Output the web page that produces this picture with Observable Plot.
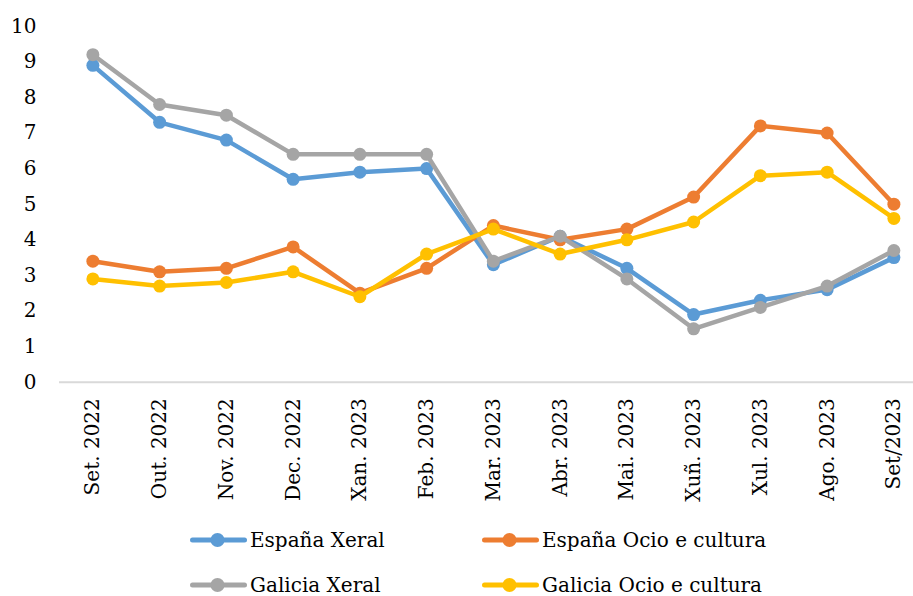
<!DOCTYPE html>
<html>
<head>
<meta charset="utf-8">
<script src="https://cdn.jsdelivr.net/npm/d3@7"></script>
<script src="https://cdn.jsdelivr.net/npm/@observablehq/plot@0.6"></script>
<style>
  body { margin: 0; background: #fff; }
  #wrap { position: relative; width: 913px; height: 596px; font-family: "DejaVu Serif", serif; overflow: hidden; }
  .leg { position: absolute; display: flex; align-items: center; font-size: 20px; line-height: 22px; color: #000; white-space: nowrap; }
  .leg svg { margin-right: 3px; }
</style>
</head>
<body>
<div id="wrap"></div>
<script>
const months = ["Set. 2022","Out. 2022","Nov. 2022","Dec. 2022","Xan. 2023","Feb. 2023","Mar. 2023","Abr. 2023","Mai. 2023","Xuñ. 2023","Xul. 2023","Ago. 2023","Set/2023"];
const seriesNames = ["España Xeral","España Ocio e cultura","Galicia Xeral","Galicia Ocio e cultura"];
const seriesColors = ["#5B9BD5","#ED7D31","#A5A5A5","#FFC000"];
const espanaXeral  = [8.9, 7.3, 6.8, 5.7, 5.9, 6.0, 3.3, 4.1, 3.2, 1.9, 2.3, 2.6, 3.5];
const espanaOcio   = [3.4, 3.1, 3.2, 3.8, 2.5, 3.2, 4.4, 4.0, 4.3, 5.2, 7.2, 7.0, 5.0];
const galiciaXeral = [9.2, 7.8, 7.5, 6.4, 6.4, 6.4, 3.4, 4.1, 2.9, 1.5, 2.1, 2.7, 3.7];
const galiciaOcio  = [2.9, 2.7, 2.8, 3.1, 2.4, 3.6, 4.3, 3.6, 4.0, 4.5, 5.8, 5.9, 4.6];
const yTicks = [0,1,2,3,4,5,6,7,8,9,10];

const seriesValues = [espanaXeral, espanaOcio, galiciaXeral, galiciaOcio];
const data = [];
seriesNames.forEach((s, si) => months.forEach((m, i) => data.push({series: s, month: m, value: seriesValues[si][i]})));

const W = 913, H = 500;
const marks = [
  Plot.ruleY([0], {stroke: "#D9D9D9", strokeWidth: 2}),
  Plot.axisY({ticks: yTicks, tickSize: 0, tickPadding: 23, fontSize: 20, label: null}),
  Plot.axisX({tickSize: 0, tickRotate: -90, tickPadding: 16, fontSize: 20, label: null})
];
seriesNames.forEach((s) => {
  const d = data.filter(r => r.series === s);
  marks.push(Plot.line(d, {x: "month", y: "value", stroke: "series", strokeWidth: 4.5, strokeLinejoin: "round", strokeLinecap: "round"}));
  marks.push(Plot.dot(d, {x: "month", y: "value", fill: "series", r: 6.5}));
});

const chart = Plot.plot({
  width: W, height: H,
  marginLeft: 59, marginRight: 0, marginTop: 25.7, marginBottom: H - 381.7,
  style: {fontFamily: "DejaVu Serif, serif", fontSize: "20px", color: "#000", background: "#fff", overflow: "visible"},
  x: {type: "band", domain: months, range: [59, 59 + 13 * 66.75], padding: 0, round: false},
  y: {domain: [0, 10]},
  color: {domain: seriesNames, range: seriesColors},
  marks
});
const wrap = document.getElementById("wrap");
chart.style.position = "absolute";
chart.style.left = "0px";
chart.style.top = "0px";
wrap.appendChild(chart);

const legPos = [[190, 540], [482, 540], [190, 585], [482, 585]];
seriesNames.forEach((s, i) => {
  const div = document.createElement("div");
  div.className = "leg";
  div.style.left = legPos[i][0] + "px";
  div.style.top = (legPos[i][1] - 11) + "px";
  div.style.height = "22px";
  div.innerHTML = `<svg width="57" height="16"><line x1="2.5" x2="54.5" y1="8" y2="8" stroke="${seriesColors[i]}" stroke-width="5" stroke-linecap="round"/><circle cx="27.5" cy="8" r="7" fill="${seriesColors[i]}"/></svg><span>${s}</span>`;
  wrap.appendChild(div);
});
</script>
</body>
</html>
